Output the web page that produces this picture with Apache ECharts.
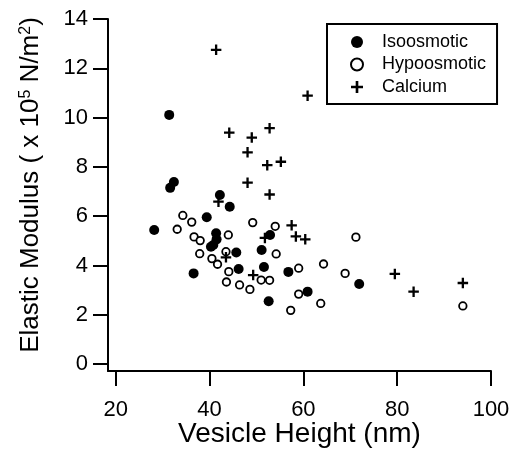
<!DOCTYPE html>
<html>
<head>
<meta charset="utf-8">
<script src="https://cdn.jsdelivr.net/npm/echarts@6/dist/echarts.min.js"></script>
<style>
  html, body { margin: 0; padding: 0; background: #fff; }
  #main { width: 513px; height: 450px; }
</style>
</head>
<body>
<div id="main"></div>
<script>
// values: [vesicle height (nm), elastic modulus (x10^5 N/m^2)]
var isoosmotic = [
  [28.2, 5.44], [31.4, 10.11], [31.6, 7.15], [32.4, 7.39], [36.6, 3.68],
  [39.4, 5.96], [42.2, 6.86], [44.3, 6.38], [41.4, 5.31], [41.5, 5.06],
  [40.8, 4.83], [40.3, 4.76], [45.7, 4.53], [46.2, 3.86], [51.1, 4.63],
  [51.6, 3.94], [52.6, 2.55], [52.9, 5.24], [56.8, 3.74], [60.9, 2.94],
  [71.9, 3.25]
]
var hypoosmotic = [
  [33.1, 5.47], [34.3, 6.03], [36.2, 5.76], [36.7, 5.16], [38.0, 5.01],
  [37.9, 4.48], [40.5, 4.28], [41.7, 4.05], [44.0, 5.24], [43.5, 4.56],
  [44.1, 3.75], [43.6, 3.33], [46.4, 3.21], [48.6, 3.03], [49.2, 5.74],
  [54.0, 5.59], [54.2, 4.47], [51.0, 3.41], [52.8, 3.40], [59.0, 3.89],
  [64.3, 4.06], [68.9, 3.68], [71.2, 5.15], [59.0, 2.84], [63.7, 2.46],
  [57.3, 2.18], [94.0, 2.36]
]
var calcium = [
  [41.4, 12.75], [44.2, 9.39], [49.0, 9.19], [48.1, 8.59], [48.1, 7.36],
  [52.8, 9.57], [52.3, 8.07], [55.2, 8.21], [52.8, 6.88], [60.9, 10.89],
  [41.9, 6.59], [43.5, 4.33], [49.3, 3.61], [51.8, 5.12], [57.5, 5.63],
  [58.4, 5.18], [60.4, 5.06], [79.5, 3.66], [83.5, 2.94], [94.0, 3.29]
]
var xTicks = [20, 40, 60, 80, 100]
var yTicks = [0, 2, 4, 6, 8, 10, 12, 14]

var font = 'Liberation Sans, Arial, sans-serif'
var plus = 'path://M3.9,0H6.1V3.9H10V6.1H6.1V10H3.9V6.1H0V3.9H3.9Z'

var myChart = echarts.init(document.getElementById('main'), null, { renderer: 'canvas' })
myChart.setOption({
  animation: false,
  backgroundColor: '#fff',
  textStyle: { fontFamily: font, color: '#000' },
  grid: {
    left: 108,
    right: 22,
    top: 19,
    bottom: 79,
    containLabel: false,
    outerBoundsMode: 'none'
  },
  legend: {
    orient: 'vertical',
    left: 327,
    top: 24,
    padding: [9, 11, 8, 23],
    itemGap: 4.5,
    itemWidth: 40,
    itemHeight: 12,
    borderColor: '#000',
    borderWidth: 2,
    borderRadius: 0,
    textStyle: { fontFamily: font, fontSize: 18, color: '#000' },
    data: ['Isoosmotic', 'Hypoosmotic', { name: 'Calcium', icon: plus }]
  },
  xAxis: {
    type: 'value',
    min: 18.35,
    max: 100,
    name: 'Vesicle Height (nm)',
    nameLocation: 'middle',
    nameGap: 49,
    nameMoveOverlap: false,
    nameTextStyle: { fontFamily: font, fontSize: 28, color: '#000' },
    splitLine: { show: false },
    axisLine: { onZero: false, lineStyle: { color: '#000', width: 2 } },
    axisTick: { customValues: xTicks, length: 15, lineStyle: { color: '#000', width: 2 } },
    axisLabel: { customValues: xTicks, margin: 28, fontFamily: font, fontSize: 22, color: '#000' }
  },
  yAxis: {
    type: 'value',
    min: -0.28,
    max: 14,
    name: 'Elastic Modulus ( x 10{sup|5} N/m{sup|2})',
    nameLocation: 'middle',
    nameGap: 64,
    nameMoveOverlap: false,
    nameTextStyle: {
      fontFamily: font,
      fontSize: 26,
      color: '#000',
      padding: [0, 0, 0, 20],
      rich: {
        sup: { fontFamily: font, fontSize: 16, color: '#000', verticalAlign: 'top', padding: [0, 0, 8, 0] }
      }
    },
    splitLine: { show: false },
    axisLine: { onZero: false, lineStyle: { color: '#000', width: 2 } },
    axisTick: { customValues: yTicks, length: 15, lineStyle: { color: '#000', width: 2 } },
    axisLabel: { customValues: yTicks, margin: 20, fontFamily: font, fontSize: 22, color: '#000' }
  },
  series: [
    {
      name: 'Isoosmotic',
      type: 'scatter',
      data: isoosmotic,
      symbol: 'circle',
      symbolSize: 10,
      itemStyle: { color: '#000', opacity: 1 }
    },
    {
      name: 'Hypoosmotic',
      type: 'scatter',
      data: hypoosmotic,
      symbol: 'circle',
      symbolSize: 7.5,
      itemStyle: { color: '#fff', borderColor: '#000', borderWidth: 1.8, opacity: 1 }
    },
    {
      name: 'Calcium',
      type: 'scatter',
      data: calcium,
      symbol: plus,
      symbolSize: 10.5,
      itemStyle: { color: '#000', opacity: 1 }
    }
  ]
})
</script>
</body>
</html>
